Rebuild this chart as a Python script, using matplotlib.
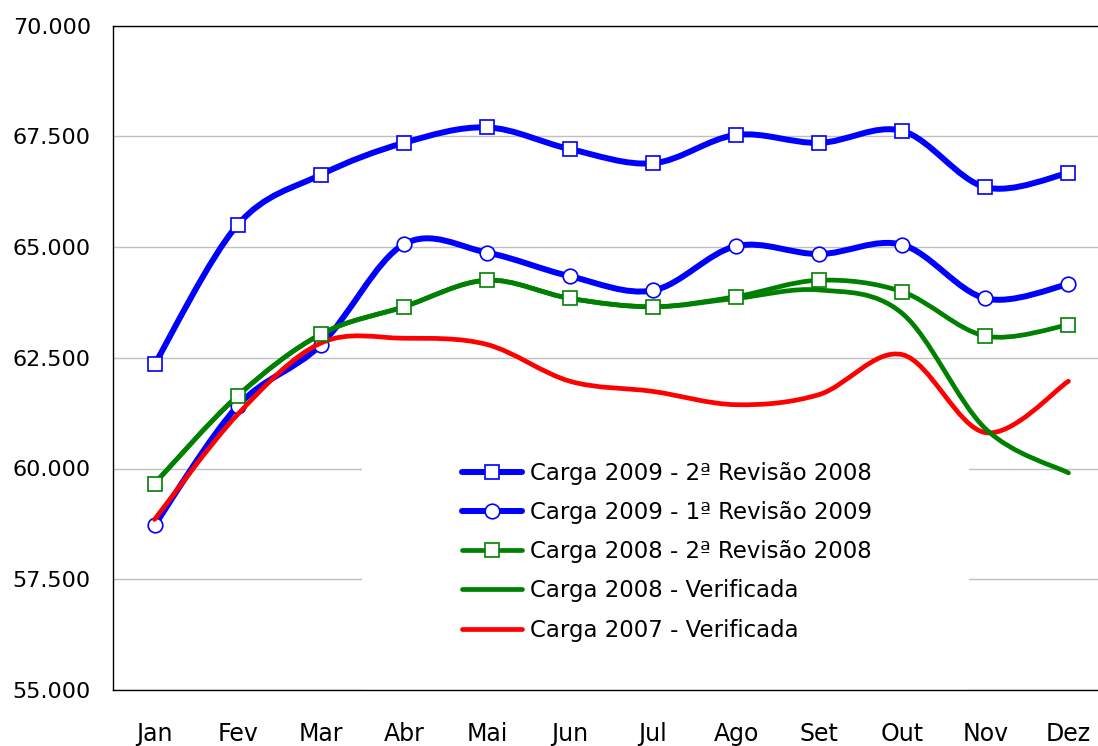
import matplotlib
matplotlib.use("Agg")
import matplotlib.pyplot as plt
from matplotlib.path import Path
from matplotlib.patches import PathPatch, Rectangle
from matplotlib.lines import Line2D
from matplotlib.ticker import FixedLocator, FuncFormatter

plt.rcParams['font.family'] = ['DejaVu Sans']

months = ["Jan", "Fev", "Mar", "Abr", "Mai", "Jun", "Jul", "Ago", "Set", "Out", "Nov", "Dez"]

carga2009_rev2_2008 = [62350, 65500, 66630, 67350, 67700, 67210, 66890, 67530, 67350, 67620, 66350, 66670]
carga2009_rev1_2009 = [58720, 61410, 62790, 65060, 64875, 64340, 64020, 65020, 64840, 65050, 63840, 64160]
carga2008_rev2_2008 = [59660, 61640, 63030, 63650, 64250, 63840, 63650, 63880, 64250, 63990, 62990, 63240]
carga2008_verif = [59660, 61640, 63030, 63650, 64250, 63840, 63650, 63840, 64030, 63500, 60900, 59900]
carga2007_verif = [58850, 61220, 62830, 62940, 62800, 61970, 61740, 61440, 61670, 62570, 60810, 61970]

labels = ["Carga 2009 - 2ª Revisão 2008", "Carga 2009 - 1ª Revisão 2009",
          "Carga 2008 - 2ª Revisão 2008", "Carga 2008 - Verificada", "Carga 2007 - Verificada"]

yticks = [55000, 57500, 60000, 62500, 65000, 67500, 70000]

BLUE = "#0000ff"
GREEN = "#008000"
RED = "#ff0000"

W, H = 1098, 746
fig = plt.figure(figsize=(W / 100, H / 100), dpi=100)
left, right, top, bottom = 113, 1110, 25.5, 690
ax = fig.add_axes([left / W, 1 - bottom / H, (right - left) / W, (bottom - top) / H])

ax.set_xlim(-0.5, 11.5)
ax.set_ylim(55000, 70000)


def smooth_path(ys):
    """Excel-style smoothed line: cubic Bezier segments through the data points."""
    xs = list(range(len(ys)))
    pts = list(zip(xs, ys))
    n = len(pts)
    verts = [pts[0]]
    codes = [Path.MOVETO]
    for i in range(n - 1):
        p0 = pts[i - 1] if i > 0 else pts[i]
        p1 = pts[i]
        p2 = pts[i + 1]
        p3 = pts[i + 2] if i + 2 < n else pts[i + 1]
        c1 = (p1[0] + (p2[0] - p0[0]) / 6.0, p1[1] + (p2[1] - p0[1]) / 6.0)
        c2 = (p2[0] - (p3[0] - p1[0]) / 6.0, p2[1] - (p3[1] - p1[1]) / 6.0)
        verts += [c1, c2, p2]
        codes += [Path.CURVE4, Path.CURVE4, Path.CURVE4]
    return Path(verts, codes)


def draw_series(ys, color, lw, marker=None, z=3):
    patch = PathPatch(smooth_path(ys), facecolor="none", edgecolor=color, lw=lw,
                      capstyle="round", joinstyle="round", zorder=z)
    ax.add_patch(patch)
    if marker:
        ax.plot(range(len(ys)), ys, linestyle="none", marker=marker, markersize=10.5,
                markerfacecolor="white", markeredgecolor=color, markeredgewidth=1.2, zorder=z + 0.5)


draw_series(carga2009_rev2_2008, BLUE, 4.3, "s", z=3)
draw_series(carga2009_rev1_2009, BLUE, 4.3, "o", z=4)
draw_series(carga2007_verif, RED, 3.4, None, z=5)
draw_series(carga2008_verif, GREEN, 3.4, None, z=6)
draw_series(carga2008_rev2_2008, GREEN, 3.4, "s", z=7)

# grid
ax.yaxis.set_major_locator(FixedLocator(yticks))
ax.yaxis.set_major_formatter(FuncFormatter(lambda v, p: f"{v:,.0f}".replace(",", ".")))
ax.set_axisbelow(True)
ax.grid(axis="y", color="#c0c0c0", lw=1.0, zorder=0.5)
ax.set_xticks(range(12))
ax.set_xticklabels(months)
ax.tick_params(axis="x", length=0, pad=23, labelsize=17)
ax.tick_params(axis="y", length=0, pad=16, labelsize=16)
for s in ax.spines.values():
    s.set_linewidth(1.0)
    s.set_color("black")

# white legend background masking grid lines
ax.add_patch(Rectangle(((362 - left) / (right - left), 0), (969 - 362) / (right - left),
                       (bottom - 370) / (bottom - top), transform=ax.transAxes,
                       facecolor="white", edgecolor="none", zorder=1))

handles = [
    Line2D([], [], color=BLUE, lw=4.3, marker="s", markersize=10.5, markerfacecolor="white",
           markeredgecolor=BLUE, markeredgewidth=1.2, solid_capstyle="round"),
    Line2D([], [], color=BLUE, lw=4.3, marker="o", markersize=10.5, markerfacecolor="white",
           markeredgecolor=BLUE, markeredgewidth=1.2, solid_capstyle="round"),
    Line2D([], [], color=GREEN, lw=3.4, marker="s", markersize=10.5, markerfacecolor="white",
           markeredgecolor=GREEN, markeredgewidth=1.2, solid_capstyle="round"),
    Line2D([], [], color=GREEN, lw=3.4, solid_capstyle="round"),
    Line2D([], [], color=RED, lw=3.4, solid_capstyle="round"),
]
leg = fig.legend(handles, labels, loc="upper left", bbox_to_anchor=(462 / W, 1 - 461.6 / H),
                 frameon=False, fontsize=16.5, handlelength=2.62, handletextpad=0.35,
                 labelspacing=0.71, borderpad=0, borderaxespad=0)

fig.savefig("out.png", dpi=100, facecolor="white")
